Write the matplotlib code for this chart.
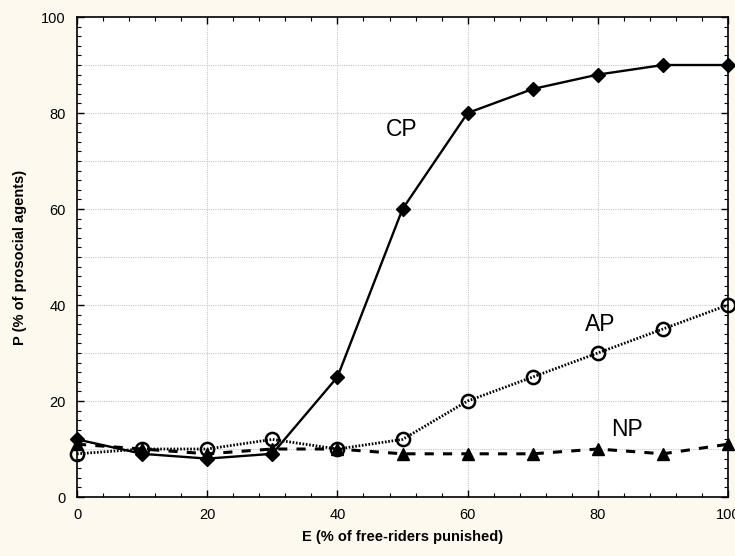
import matplotlib
matplotlib.use("Agg")
import matplotlib.pyplot as plt
from matplotlib.ticker import MultipleLocator

plt.rcParams['font.family'] = ['Liberation Sans', 'DejaVu Sans']

E = [0, 10, 20, 30, 40, 50, 60, 70, 80, 90, 100]
CP = [12, 9, 8, 9, 25, 60, 80, 85, 88, 90, 90]
AP = [9, 10, 10, 12, 10, 12, 20, 25, 30, 35, 40]
NP = [11, 10, 9, 10, 10, 9, 9, 9, 10, 9, 11]

labels = {"CP": (47.5, 76.5), "AP": (78, 36), "NP": (82, 14)}

fig = plt.figure(figsize=(7.35, 5.56), dpi=100, facecolor='#fdf9ee')
ax = fig.add_axes([0.1048, 0.1061, 0.9905 - 0.1048, 0.9694 - 0.1061])
ax.set_facecolor('white')

ax.plot(E, NP, color='black', lw=2.2, ls=(0, (3, 3)), marker='^', ms=8.5, zorder=3, clip_on=False)
ax.plot(E, AP, color='black', lw=2.0, ls=(0, (0.6, 0.6)), marker='o', ms=9.5,
        mfc='none', mec='black', mew=1.8, zorder=4, clip_on=False)
ax.plot(E, CP, color='black', lw=1.7, ls='-', marker='D', ms=7.5, zorder=5, clip_on=False)

for k, (x, y) in labels.items():
    ax.text(x, y, k, fontsize=16.5, ha='left', va='center')

ax.set_xlim(0, 100)
ax.set_ylim(0, 100)
ax.xaxis.set_major_locator(MultipleLocator(20))
ax.xaxis.set_minor_locator(MultipleLocator(4))
ax.yaxis.set_major_locator(MultipleLocator(20))
ax.yaxis.set_minor_locator(MultipleLocator(2))
ax.tick_params(which='both', direction='in', top=True, right=True, labeltop=False, labelright=False)
ax.tick_params(which='major', length=5, width=1, labelsize=10.5, pad=8)
ax.tick_params(which='minor', length=3, width=0.8)

for v in range(10, 100, 10):
    ax.axhline(v, color='#c8c8c8', lw=0.8, ls=(0, (1, 1)), zorder=0)
for v in range(20, 100, 20):
    ax.axvline(v, color='#c8c8c8', lw=0.8, ls=(0, (1, 1)), zorder=0)

for s in ax.spines.values():
    s.set_linewidth(1.2)

ax.set_xlabel('E (% of free-riders punished)', fontsize=10.5, fontweight='bold', labelpad=6)
ax.set_ylabel('P (% of prosocial agents)', fontsize=10.5, fontweight='bold', labelpad=10)

fig.savefig('out.png', dpi=100, facecolor=fig.get_facecolor())
